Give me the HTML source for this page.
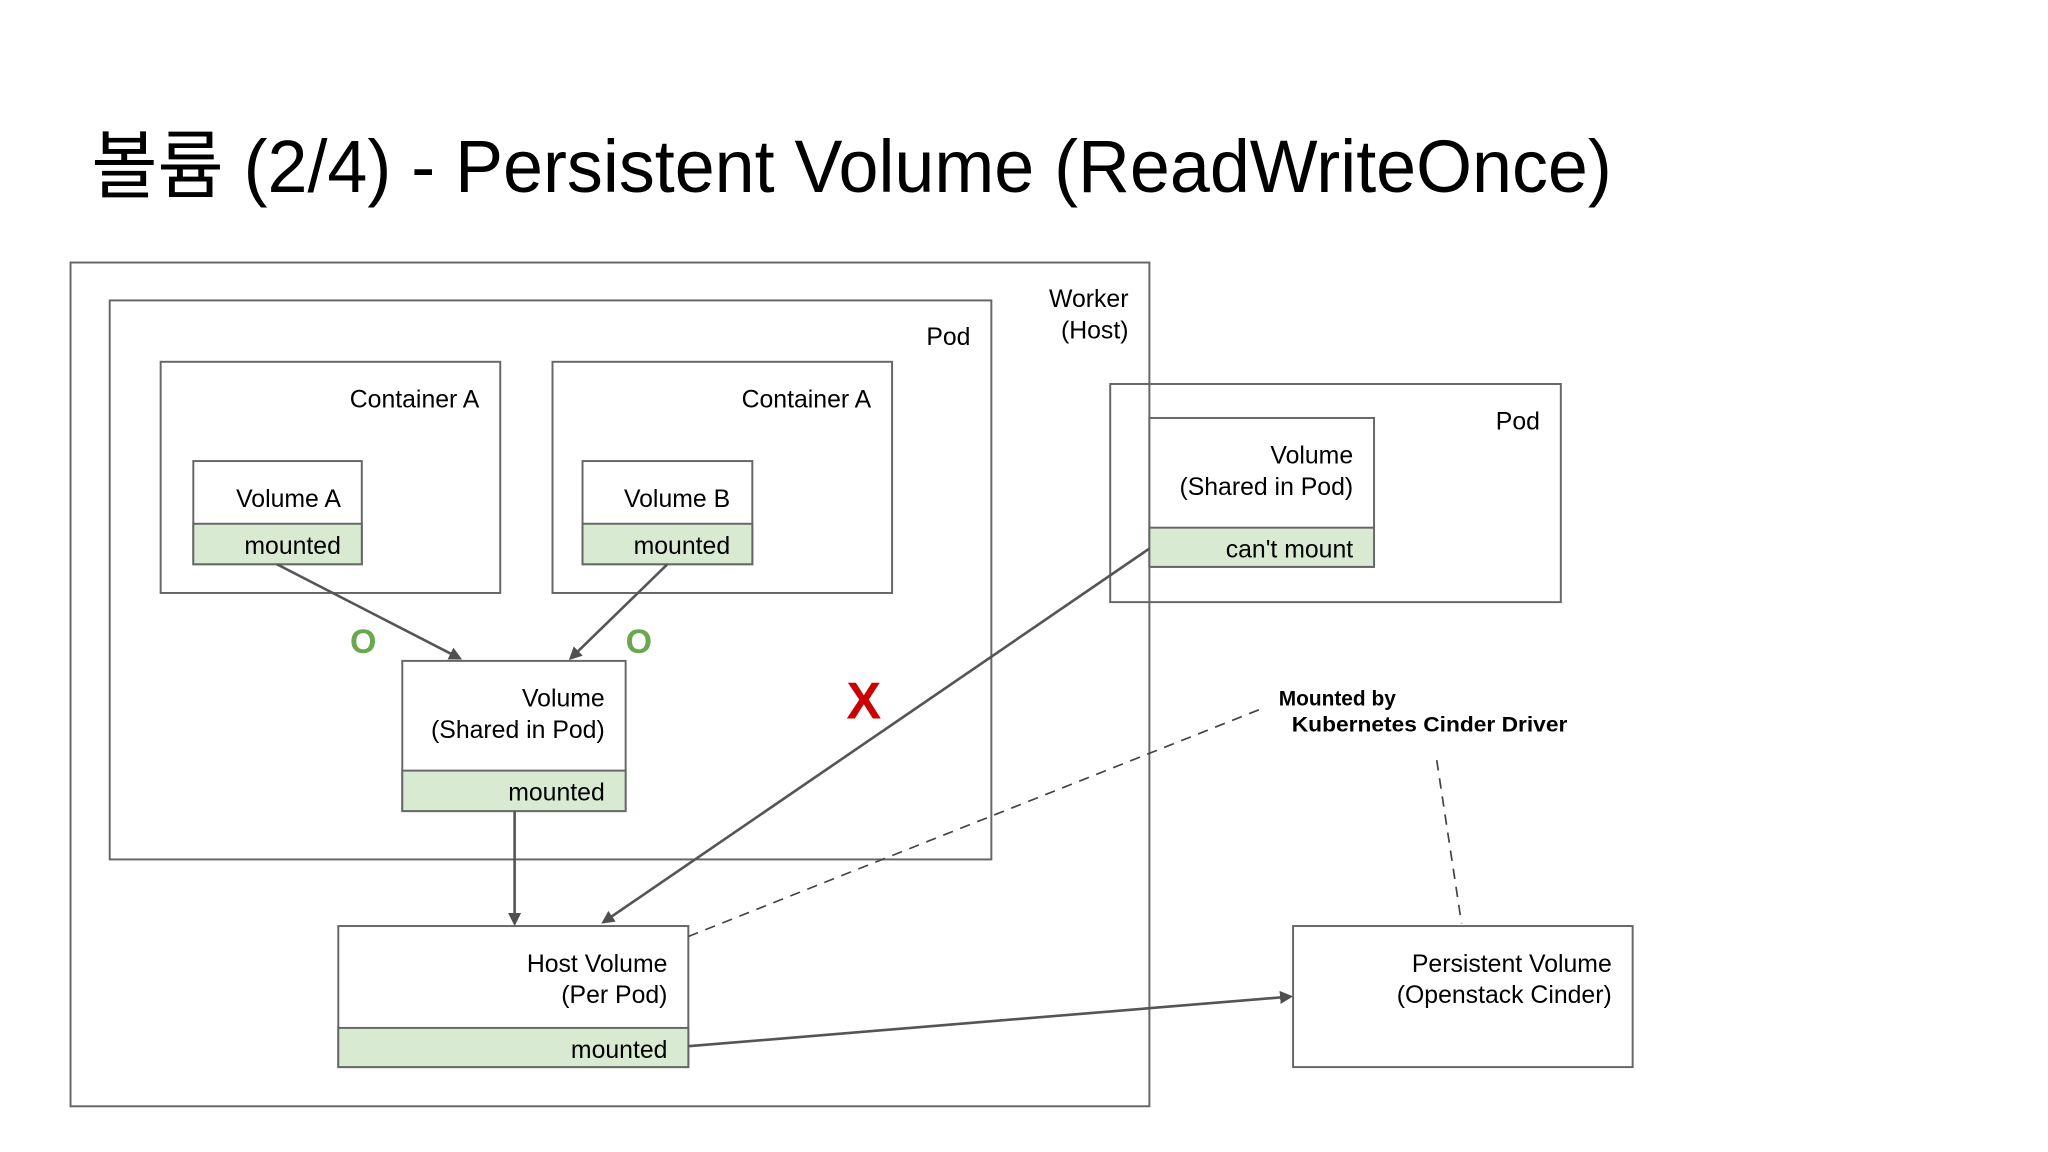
<!DOCTYPE html>
<html><head><meta charset="utf-8"><style>
html,body{margin:0;padding:0;background:#fff;}
svg{display:block;}
text{font-family:"Liberation Sans","Noto Sans CJK KR",sans-serif;fill:#000;}
</style></head><body>
<svg width="2048" height="1152" viewBox="0 0 1568 882" xmlns="http://www.w3.org/2000/svg">
<defs><marker id="a" markerWidth="10" markerHeight="10" refX="8" refY="5" orient="auto" markerUnits="userSpaceOnUse"><path d="M0,0 L10,5 L0,10 z" fill="#505050"/></marker></defs>
<rect width="1568" height="882" fill="#fff"/>
<text x="70" y="147" font-size="57" textLength="1164" lengthAdjust="spacingAndGlyphs">볼륨 (2/4) - Persistent Volume (ReadWriteOnce)</text>
<g fill="none" stroke="#666" stroke-width="1.5">
<rect x="54" y="201" width="826" height="646"/>
<rect x="84" y="230" width="675" height="428"/>
<rect x="123" y="277" width="260" height="177"/>
<rect x="423" y="277" width="260" height="177"/>
<rect x="850" y="294" width="345" height="167"/>
<rect x="990" y="709" width="260" height="108"/>
</g>
<g stroke="#666" stroke-width="1.5">
<rect x="148" y="353" width="129" height="79" fill="#fff"/><rect x="148" y="401" width="129" height="31" fill="#d9ead3"/>
<rect x="446" y="353" width="130" height="79" fill="#fff"/><rect x="446" y="401" width="130" height="31" fill="#d9ead3"/>
<rect x="880" y="320" width="172" height="114" fill="#fff"/><rect x="880" y="404" width="172" height="30" fill="#d9ead3"/>
<rect x="308" y="506" width="171" height="115" fill="#fff"/><rect x="308" y="590" width="171" height="31" fill="#d9ead3"/>
<rect x="259" y="709" width="268" height="108" fill="#fff"/><rect x="259" y="787" width="268" height="30" fill="#d9ead3"/>
</g>
<g stroke="#555" stroke-width="2" fill="none">
<line x1="212" y1="432" x2="352" y2="504" marker-end="url(#a)"/>
<line x1="511" y1="432" x2="437" y2="504" marker-end="url(#a)"/>
<line x1="394" y1="621" x2="394" y2="707" marker-end="url(#a)"/>
<line x1="880" y1="420" x2="462" y2="706" marker-end="url(#a)"/>
<line x1="527" y1="801" x2="988" y2="763" marker-end="url(#a)"/>
</g>
<g stroke="#444" stroke-width="1.3" stroke-dasharray="8,6" fill="none">
<line x1="527" y1="717" x2="965" y2="543"/>
<line x1="1100" y1="582" x2="1119" y2="707"/>
</g>
<g font-size="19" text-anchor="end">
<text x="864" y="235">Worker</text><text x="864" y="259">(Host)</text>
<text x="743" y="264">Pod</text>
<text x="367" y="312">Container A</text><text x="667" y="312">Container A</text>
<text x="1179" y="329">Pod</text>
<text x="261" y="388">Volume A</text><text x="261" y="424">mounted</text>
<text x="559" y="388">Volume B</text><text x="559" y="424">mounted</text>
<text x="1036" y="355">Volume</text><text x="1036" y="379">(Shared in Pod)</text><text x="1036" y="427">can't mount</text>
<text x="463" y="541">Volume</text><text x="463" y="565">(Shared in Pod)</text><text x="463" y="613">mounted</text>
<text x="511" y="744">Host Volume</text><text x="511" y="768">(Per Pod)</text><text x="511" y="810">mounted</text>
<text x="1234" y="744">Persistent Volume</text><text x="1234" y="768">(Openstack Cinder)</text>
</g>
<text x="979" y="540" font-size="16" font-weight="bold">Mounted by</text>
<text x="989" y="560" font-size="16" font-weight="bold" textLength="211" lengthAdjust="spacingAndGlyphs">Kubernetes Cinder Driver</text>
<text x="268" y="500" font-size="26" font-weight="bold" style="fill:#6aa84f">O</text>
<text x="479" y="500" font-size="26" font-weight="bold" style="fill:#6aa84f">O</text>
<text x="648" y="550" font-size="40" font-weight="bold" style="fill:#cc0000">X</text>
</svg>
</body></html>
